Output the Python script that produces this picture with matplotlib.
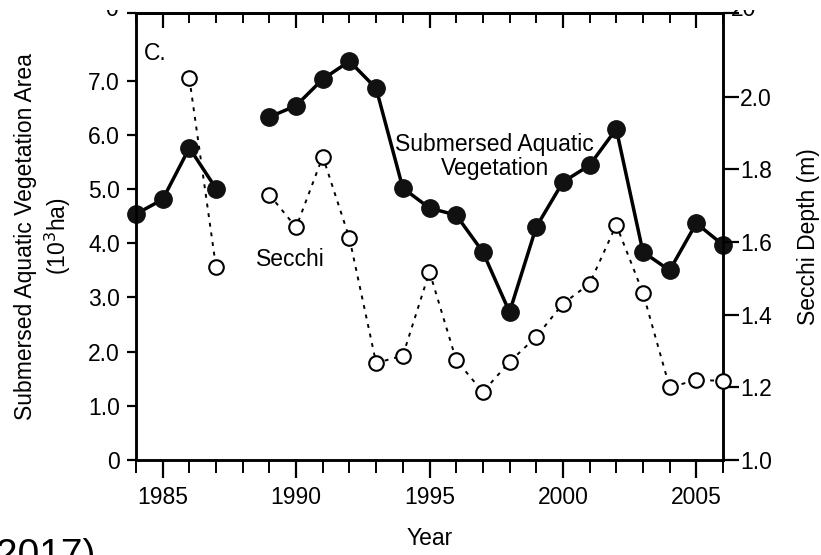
import numpy as np
import matplotlib
matplotlib.use("Agg")
import matplotlib.pyplot as plt
from matplotlib.ticker import MultipleLocator, FixedLocator, NullFormatter
from matplotlib.transforms import Bbox

plt.rcParams['font.family'] = ['Liberation Sans', 'DejaVu Sans']

years = list(range(1984, 2007))
# submersed aquatic vegetation area, 10^3 ha (no survey in 1988)
sav = [4.54, 4.81, 5.76, 5.01, None, 6.33, 6.54, 7.03, 7.36, 6.86, 5.02,
       4.65, 4.52, 3.84, 2.73, 4.30, 5.13, 5.44, 6.11, 3.84, 3.50, 4.37, 3.97]
# Secchi depth, m
secchi = [None, None, 2.05, 1.53, None, 1.73, 1.64, 1.835, 1.61, 1.267, 1.287,
          1.518, 1.275, 1.187, 1.27, 1.339, 1.43, 1.485, 1.647, 1.46, 1.20,
          1.22, 1.218]

sav = np.array([np.nan if v is None else v for v in sav])
secchi = np.array([np.nan if v is None else v for v in secchi])

W, H = 821, 555
fig = plt.figure(figsize=(W / 100, H / 100), dpi=100)
ax = fig.add_axes([136 / W, 1 - 460 / H, (723 - 136) / W, (460 - 13) / H])
ax2 = ax.twinx()

fs = 16.5
ax.plot(years, sav, '-o', color='black', lw=2.5, ms=12.5,
        markerfacecolor='#111111', markeredgecolor='#111111', zorder=3, clip_on=False)
ax2.plot(years, secchi, linestyle=(0, (2, 3)), marker='o', color='black', lw=1.4,
         ms=10.5, markerfacecolor='white', markeredgewidth=1.5, zorder=3, clip_on=False)

ax.set_xlim(1984, 2006)
ax.set_ylim(0, 8.25)
ax2.set_ylim(1.0, 2.23)

ax.xaxis.set_major_locator(FixedLocator([1985, 1990, 1995, 2000, 2005]))
ax.xaxis.set_minor_locator(MultipleLocator(1))
ax.set_yticks([0, 1, 2, 3, 4, 5, 6, 7])
ax.set_yticklabels(['0', '1.0', '2.0', '3.0', '4.0', '5.0', '6.0', '7.0'])
ax.yaxis.set_minor_locator(FixedLocator([8.25]))
ax2.set_yticks([1.0, 1.2, 1.4, 1.6, 1.8, 2.0])
ax2.set_yticklabels(['1.0', '1.2', '1.4', '1.6', '1.8', '2.0'])
ax2.yaxis.set_minor_locator(FixedLocator([2.23]))
ax2.yaxis.set_minor_formatter(NullFormatter())

ax.tick_params(axis='x', which='major', direction='out', length=13, width=1.6,
               labelsize=fs, pad=6)
ax.tick_params(axis='x', which='minor', direction='out', length=9, width=1.4)
ax.tick_params(axis='y', which='both', direction='out', length=6.5, width=1.6,
               labelsize=fs, pad=5)
ax2.tick_params(axis='y', which='both', direction='out', length=11.5, width=1.6,
                labelsize=fs, pad=1)

# ticks along the top edge point down into the plot
top = ax.secondary_xaxis('top')
top.xaxis.set_major_locator(FixedLocator([1985, 1990, 1995, 2000, 2005]))
top.xaxis.set_minor_locator(MultipleLocator(1))
top.tick_params(which='major', direction='in', length=11, width=1.6, labeltop=False)
top.tick_params(which='minor', direction='in', length=7, width=1.4)
top.xaxis.set_minor_formatter(NullFormatter())
top.spines['top'].set_linewidth(1.8)

for a in (ax, ax2):
    for s in a.spines.values():
        s.set_linewidth(1.8)

ax.set_xlabel('Year', fontsize=fs, labelpad=13)
ax.set_ylabel('Submersed Aquatic Vegetation Area\n(10$^3$ha)', fontsize=fs,
              linespacing=1.25, labelpad=11)
ax2.set_ylabel('Secchi Depth (m)', fontsize=fs, labelpad=18)

ax.text(1984.3, 7.5, 'C.', fontsize=fs, va='center', ha='left')
ax.text(1997.45, 5.6, 'Submersed Aquatic\nVegetation', fontsize=fs,
        ha='center', va='center', linespacing=1.1)
ax.text(1989.8, 3.7, 'Secchi', fontsize=fs, ha='center', va='center')

# tick labels of the panel above, only their lower parts show
clip = Bbox([[0, H - 21], [W, H - 10]])
for x, s, ha in [(118, '0', 'right'), (731, '20', 'left')]:
    t = fig.text(x / W, 1 - 10 / H, s, fontsize=fs, ha=ha, va='center')
    t.set_clip_box(clip)
    t.set_clip_on(True)
# caption fragment below the panel
fig.text(-0.02, 1 - 556 / H, '(2017)', fontsize=28, ha='left', va='center')

fig.savefig('out.png', dpi=100)
